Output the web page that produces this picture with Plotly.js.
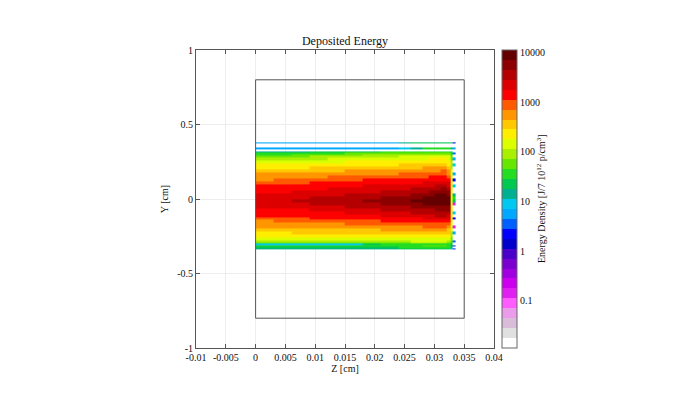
<!DOCTYPE html>
<html>
<head>
<meta charset="utf-8">
<script src="https://cdn.plot.ly/plotly-3.0.1.min.js"></script>
<style>html,body{margin:0;padding:0;background:#fff;}#chart{width:690px;height:399px;}</style>
</head>
<body>
<div id="chart"></div>
<script>
// Z bin edges [cm]
const zEdges = [0, 0.003, 0.006, 0.009, 0.012, 0.015, 0.018, 0.021, 0.024, 0.026, 0.028, 0.029, 0.030, 0.031, 0.032, 0.0327, 0.0331, 0.0335];
// Y bin edges [cm], top to bottom
const yEdgesTop = [0.38, 0.37, 0.344, 0.332, 0.32, 0.31, 0.30, 0.29, 0.28, 0.26, 0.24, 0.22, 0.20, 0.18, 0.16, 0.14, 0.12, 0.10, 0.08, 0.06, 0.04, 0.02, 0.00,
  -0.02, -0.04, -0.06, -0.08, -0.10, -0.12, -0.14, -0.16, -0.18, -0.20, -0.22, -0.24, -0.26, -0.28, -0.29, -0.30, -0.31, -0.32, -0.33, -0.34];
const N = null;
// Energy density [J/7 10^12 p/cm^3], rows top to bottom
const density = [
  [7,7,7,7,7,7,7,7,14,22,22,22,22,22,22,22,2.2],
  [N,N,N,N,N,N,N,N,N,N,N,N,N,N,N,N,N],
  [7,7,7,7,7,7,7,7,9,14,35,35,35,35,35,14,5.6],
  [N,N,N,N,N,N,N,N,N,N,N,N,N,N,N,N,N],
  [14,14,14,22,22,22,22,35,35,35,35,35,35,35,35,22,N],
  [35,35,35,35,35,56,56,56,56,56,56,56,56,56,56,35,3.5],
  [35,35,56,56,56,56,90,90,90,90,90,90,90,90,90,35,N],
  [56,56,56,90,90,90,90,90,140,140,140,140,140,140,140,56,N],
  [90,90,90,90,140,140,140,140,140,140,140,220,220,220,140,56,5.6],
  [140,140,140,140,140,220,220,220,220,220,220,220,220,220,220,90,N],
  [220,220,220,220,220,220,220,220,350,350,350,350,350,350,220,90,9],
  [220,220,220,350,350,350,350,350,350,350,560,560,560,560,350,90,N],
  [350,350,350,350,350,560,560,560,560,560,560,560,560,900,560,140,N],
  [560,560,560,560,560,560,560,560,900,900,900,900,900,900,560,140,5.6],
  [560,560,560,560,900,900,900,900,900,900,900,1400,1400,1400,900,140,N],
  [560,900,900,900,900,900,1400,1400,1400,1400,1400,1400,1400,1400,1400,220,2.2],
  [900,900,900,1400,1400,1400,1400,1400,1400,1400,2200,2200,2200,2200,2200,220,N],
  [1400,1400,1400,1400,1400,1400,2200,2200,2200,2200,2200,2200,3500,3500,2200,220,9],
  [1400,1400,1400,1400,2200,2200,2200,2200,2200,3500,3500,3500,3500,5600,3500,220,N],
  [1400,1400,2200,2200,2200,2200,2200,3500,3500,3500,3500,5600,5600,5600,5600,220,N],
  [2200,2200,2200,2200,2200,3500,3500,3500,3500,5600,5600,5600,9000,9000,5600,140,14],
  [2200,2200,2200,3500,3500,3500,3500,5600,5600,5600,9000,9000,9000,9000,9000,140,35],
  [2200,2200,3500,3500,3500,3500,5600,5600,5600,9000,9000,9000,9000,9000,9000,140,22],
  [2200,2200,2200,3500,3500,3500,3500,5600,5600,5600,9000,9000,9000,9000,9000,140,0.13],
  [2200,2200,2200,2200,2200,3500,3500,3500,3500,5600,5600,5600,5600,5600,5600,220,N],
  [1400,1400,1400,2200,2200,2200,2200,3500,3500,3500,3500,3500,5600,5600,5600,220,N],
  [1400,1400,1400,1400,1400,2200,2200,2200,2200,3500,3500,3500,3500,3500,3500,220,9],
  [1400,1400,1400,1400,1400,1400,1400,2200,2200,2200,2200,2200,3500,3500,2200,220,N],
  [900,900,900,1400,1400,1400,1400,1400,1400,1400,2200,2200,2200,2200,2200,220,2.2],
  [560,900,900,900,900,900,900,1400,1400,1400,1400,1400,1400,1400,1400,220,N],
  [560,560,560,560,560,900,900,900,900,900,900,900,900,900,900,140,N],
  [560,560,560,560,560,560,560,560,560,560,900,900,900,900,560,140,0.13],
  [350,350,350,350,350,350,350,560,560,560,560,560,560,560,350,140,N],
  [220,220,350,350,350,350,350,350,350,350,350,350,350,350,350,90,5.6],
  [220,220,220,220,220,220,220,220,220,220,220,220,220,220,220,90,N],
  [140,140,140,140,140,140,140,140,140,140,140,140,140,140,140,56,N],
  [90,90,90,90,90,90,90,90,90,140,140,140,140,140,90,56,3.5],
  [56,56,56,56,56,56,56,56,56,90,90,90,90,90,56,35,N],
  [9,9,9,9,9,9,22,35,35,35,35,35,35,35,35,22,N],
  [35,35,35,35,35,35,35,35,35,35,56,56,56,56,35,22,2.2],
  [22,22,22,22,22,22,22,22,35,35,35,35,35,35,35,14,N],
  [14,14,14,14,14,14,14,14,22,22,22,22,22,22,22,9,2.2]
];
// Geometry outline [cm]
const boxZ = [0, 0.035, 0.035, 0, 0];
const boxY = [-0.8, -0.8, 0.8, 0.8, -0.8];
// Tick labels
const xTickVals = [-0.01, -0.005, 0, 0.005, 0.01, 0.015, 0.02, 0.025, 0.03, 0.035, 0.04];
const xTickText = ["-0.01", "-0.005", "0", "0.005", "0.01", "0.015", "0.02", "0.025", "0.03", "0.035", "0.04"];
const yTickVals = [-1, -0.5, 0, 0.5, 1];
const yTickText = ["-1", "-0.5", "0", "0.5", "1"];
const cbTickVals = [-1, 0, 1, 2, 3, 4];
const cbTickText = ["0.1", "1", "10", "100", "1000", "10000"];

// palette, low to high (30 bands)
const palette = ['#ffffff','#e0e0e0','#d8bcd8','#ea9cea','#ff5cff','#e020f0','#cc00ee','#a000e0','#7a00d0','#4a00c8',
  '#0000cc','#0000ff','#0060ff','#00a8ff','#00c8f0','#00b090','#00c850','#22dd22','#66e600','#a8f000',
  '#dcff00','#ffee00','#ffc800','#ff9600','#ff5a00','#ff0000','#dc0000','#b40000','#8c0000','#640000'];
const colorscale = [];
palette.forEach((c, i) => { colorscale.push([i / palette.length, c]); colorscale.push([(i + 1) / palette.length, c]); });

const yEdges = yEdgesTop.slice().reverse();
const zLog = density.slice().reverse().map(r => r.map(v => v == null ? null : Math.log10(v)));

const serif = 'Liberation Serif, Times New Roman, serif';
const traces = [
  {
    type: 'heatmap', x: zEdges, y: yEdges, z: zLog,
    zmin: -1.95, zmax: 4.05, colorscale: colorscale, zsmooth: false, hoverinfo: 'skip',
    colorbar: {
      x: (502 - 196) / 298, xanchor: 'left', y: 0.5, yanchor: 'middle',
      len: 1, lenmode: 'fraction', thickness: 15, thicknessmode: 'pixels',
      xpad: 0, ypad: 0, outlinewidth: 1, outlinecolor: '#666',
      tickvals: cbTickVals, ticktext: cbTickText, ticks: '', ticklen: 3,
      tickfont: {family: serif, size: 10, color: '#111'}
    }
  },
  {
    type: 'scatter', mode: 'lines', x: boxZ, y: boxY,
    line: {color: '#555', width: 1}, hoverinfo: 'skip', showlegend: false
  }
];

const axisCommon = {
  showline: true, linecolor: '#555', linewidth: 1, mirror: 'ticks',
  ticks: 'inside', ticklen: 4, tickcolor: '#555',
  showgrid: true, gridcolor: '#ededed', gridwidth: 1, zeroline: false,
  tickfont: {family: serif, size: 10, color: '#111'}
};

const layout = {
  width: 690, height: 399,
  margin: {l: 196, r: 196, t: 50, b: 51},
  paper_bgcolor: '#fff', plot_bgcolor: '#fff',
  font: {family: serif, size: 10, color: '#111'},
  showlegend: false,
  title: {text: 'Deposited Energy', font: {family: serif, size: 12, color: '#111'}, x: 0.5, xanchor: 'center', y: 1 - 41 / 399, yanchor: 'middle', yref: 'container'},
  xaxis: Object.assign({}, axisCommon, {
    range: [-0.01, 0.04], tickvals: xTickVals, ticktext: xTickText,
    title: {text: 'Z [cm]', font: {family: serif, size: 10, color: '#111'}, standoff: 2}
  }),
  yaxis: Object.assign({}, axisCommon, {
    range: [-1, 1], tickvals: yTickVals, ticktext: yTickText,
    title: {text: 'Y [cm]', font: {family: serif, size: 10, color: '#111'}, standoff: 6}
  }),
  annotations: [{
    text: 'Energy Density [J/7 10<sup>12</sup> p/cm<sup>3</sup>]',
    xref: 'paper', yref: 'paper', x: (541 - 196) / 298, y: 0.5,
    xanchor: 'center', yanchor: 'middle', textangle: -90, showarrow: false,
    font: {family: serif, size: 10, color: '#111'}
  }]
};

Plotly.newPlot('chart', traces, layout, {displayModeBar: false, staticPlot: true});
</script>
</body>
</html>
